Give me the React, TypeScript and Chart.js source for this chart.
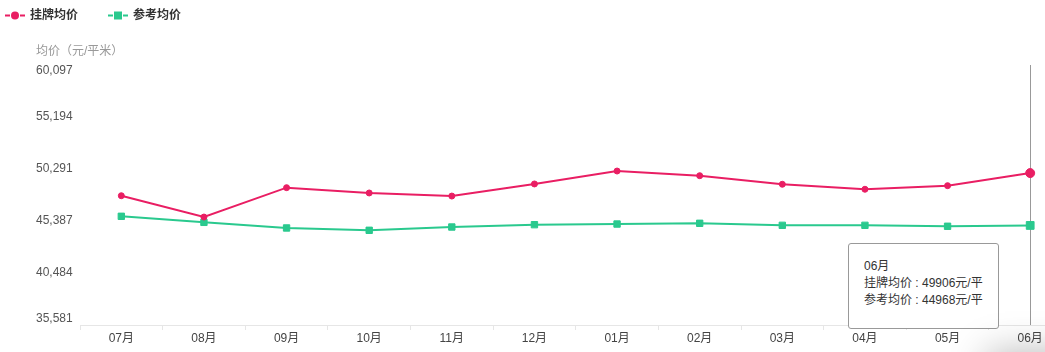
import React, { useEffect, useRef } from "react";
import { Chart, registerables } from "chart.js";

Chart.register(...registerables);

const categories = ["07月", "08月", "09月", "10月", "11月", "12月", "01月", "02月", "03月", "04月", "05月", "06月"];
const listingPrice = [47770, 45760, 48530, 48030, 47740, 48880, 50100, 49660, 48850, 48380, 48720, 49906];
const referencePrice = [45830, 45260, 44730, 44510, 44820, 45040, 45100, 45170, 44980, 44980, 44890, 44968];
const seriesNames = ["挂牌均价", "参考均价"];
const yTickValues = [60097, 55194, 50291, 45387, 40484, 35581];
const yTickLabels = ["60,097", "55,194", "50,291", "45,387", "40,484", "35,581"];
const yTitle = "均价（元/平米）";
const unit = "元/平";
const activeIndex = 11;

const RED = "#e91e63";
const GREEN = "#2ac98e";
const FONT = '"Liberation Sans", "Noto Sans CJK SC", sans-serif';

export default function App() {
  const ref = useRef<HTMLCanvasElement | null>(null);

  useEffect(() => {
    const canvas = ref.current;
    if (!canvas) return;

    const overlay = {
      id: "overlay",
      beforeDatasetsDraw(chart: any) {
        const ctx = chart.ctx;
        const x = chart.scales.x.getPixelForValue(activeIndex);
        const { top, bottom } = chart.chartArea;
        ctx.save();
        ctx.strokeStyle = "#999";
        ctx.lineWidth = 1;
        ctx.beginPath();
        ctx.moveTo(Math.round(x) + 0.5, top);
        ctx.lineTo(Math.round(x) + 0.5, bottom);
        ctx.stroke();
        ctx.restore();
      },
      afterDraw(chart: any) {
        const ctx = chart.ctx;
        const y = chart.scales.y;
        const n = yTickValues.length;
        ctx.save();
        ctx.font = `12px ${FONT}`;
        ctx.fillStyle = "#555";
        ctx.textAlign = "left";
        ctx.textBaseline = "middle";
        yTickValues.forEach((v, i) => {
          let py = y.getPixelForValue(v);
          if (i === 0) py += 5.5;
          if (i === n - 1) py -= 6.5;
          ctx.fillText(yTickLabels[i], 36, py);
        });
        ctx.fillStyle = "#999";
        ctx.fillText(yTitle, 36, 52);

        // legend
        const items = [
          { x: 5, color: RED, style: "circle", name: seriesNames[0] },
          { x: 108, color: GREEN, style: "rect", name: seriesNames[1] },
        ];
        const ly = 15.5;
        items.forEach((it) => {
          ctx.strokeStyle = it.color;
          ctx.fillStyle = it.color;
          ctx.lineWidth = 2;
          ctx.beginPath();
          ctx.moveTo(it.x, ly);
          ctx.lineTo(it.x + 5, ly);
          ctx.moveTo(it.x + 15, ly);
          ctx.lineTo(it.x + 20, ly);
          ctx.stroke();
          ctx.beginPath();
          if (it.style === "circle") {
            ctx.arc(it.x + 10, ly, 4, 0, Math.PI * 2);
          } else {
            ctx.rect(it.x + 6, ly - 4, 8, 8);
          }
          ctx.fill();
          ctx.fillStyle = "#333";
          ctx.font = `bold 12px ${FONT}`;
          ctx.fillText(it.name, it.x + 25, ly);
        });
        ctx.restore();
      },
    };

    const chart = new Chart(canvas, {
      type: "line",
      data: {
        labels: categories,
        datasets: [
          {
            label: seriesNames[0],
            data: listingPrice,
            borderColor: RED,
            backgroundColor: RED,
            borderWidth: 2,
            pointStyle: "circle",
            pointRadius: listingPrice.map((_, i) => (i === activeIndex ? 4.5 : 3)),
            pointBorderWidth: 1,
            tension: 0,
          },
          {
            label: seriesNames[1],
            data: referencePrice,
            borderColor: GREEN,
            backgroundColor: GREEN,
            borderWidth: 2,
            pointStyle: "rect",
            pointRadius: referencePrice.map((_, i) => (i === activeIndex ? 5.5 : 4.5)),
            pointBorderWidth: 1,
            tension: 0,
          },
        ],
      },
      options: {
        responsive: false,
        animation: false,
        devicePixelRatio: 1,
        layout: { padding: { left: 80, right: 0, top: 65, bottom: 5.6 } },
        plugins: { legend: { display: false }, tooltip: { enabled: false } },
        events: [],
        scales: {
          x: {
            type: "category",
            offset: true,
            grid: { drawOnChartArea: false, drawTicks: true, tickLength: 5, color: "#e6e6e6", offset: true },
            border: { color: "#e6e6e6" },
            ticks: { color: "#444", font: { size: 12, family: FONT }, padding: 1, maxRotation: 0, autoSkip: false },
          },
          y: {
            display: false,
            min: yTickValues[yTickValues.length - 1],
            max: yTickValues[0],
          },
        },
      },
      plugins: [overlay],
    });
    return () => chart.destroy();
  }, []);

  const tipLines = [
    categories[activeIndex],
    `${seriesNames[0]} : ${listingPrice[activeIndex]}${unit}`,
    `${seriesNames[1]} : ${referencePrice[activeIndex]}${unit}`,
  ];

  return (
    <div style={{ position: "fixed", left: 0, top: 0, width: 1045, height: 352, overflow: "hidden", background: "#fff" }}>
      <canvas ref={ref} width={1078} height={352} style={{ position: "absolute", left: 0, top: 0, width: 1078, height: 352 }} />
      <div
        style={{
          position: "absolute",
          left: 848,
          top: 243,
          width: 151,
          height: 86,
          boxSizing: "border-box",
          border: "1px solid #999",
          borderRadius: 3,
          background: "#fff",
          padding: "14px 15px",
          fontFamily: FONT,
          fontSize: 12,
          lineHeight: "17px",
          color: "#333",
          whiteSpace: "nowrap",
        }}
      >
        {tipLines.map((t, i) => (
          <div key={i}>{t}</div>
        ))}
      </div>
      <div
        style={{
          position: "absolute",
          left: 995,
          top: 360,
          width: 300,
          height: 100,
          background: "#fff",
          boxShadow: "0 0 36px 8px rgba(0,0,0,0.28)",
        }}
      />
    </div>
  );
}
